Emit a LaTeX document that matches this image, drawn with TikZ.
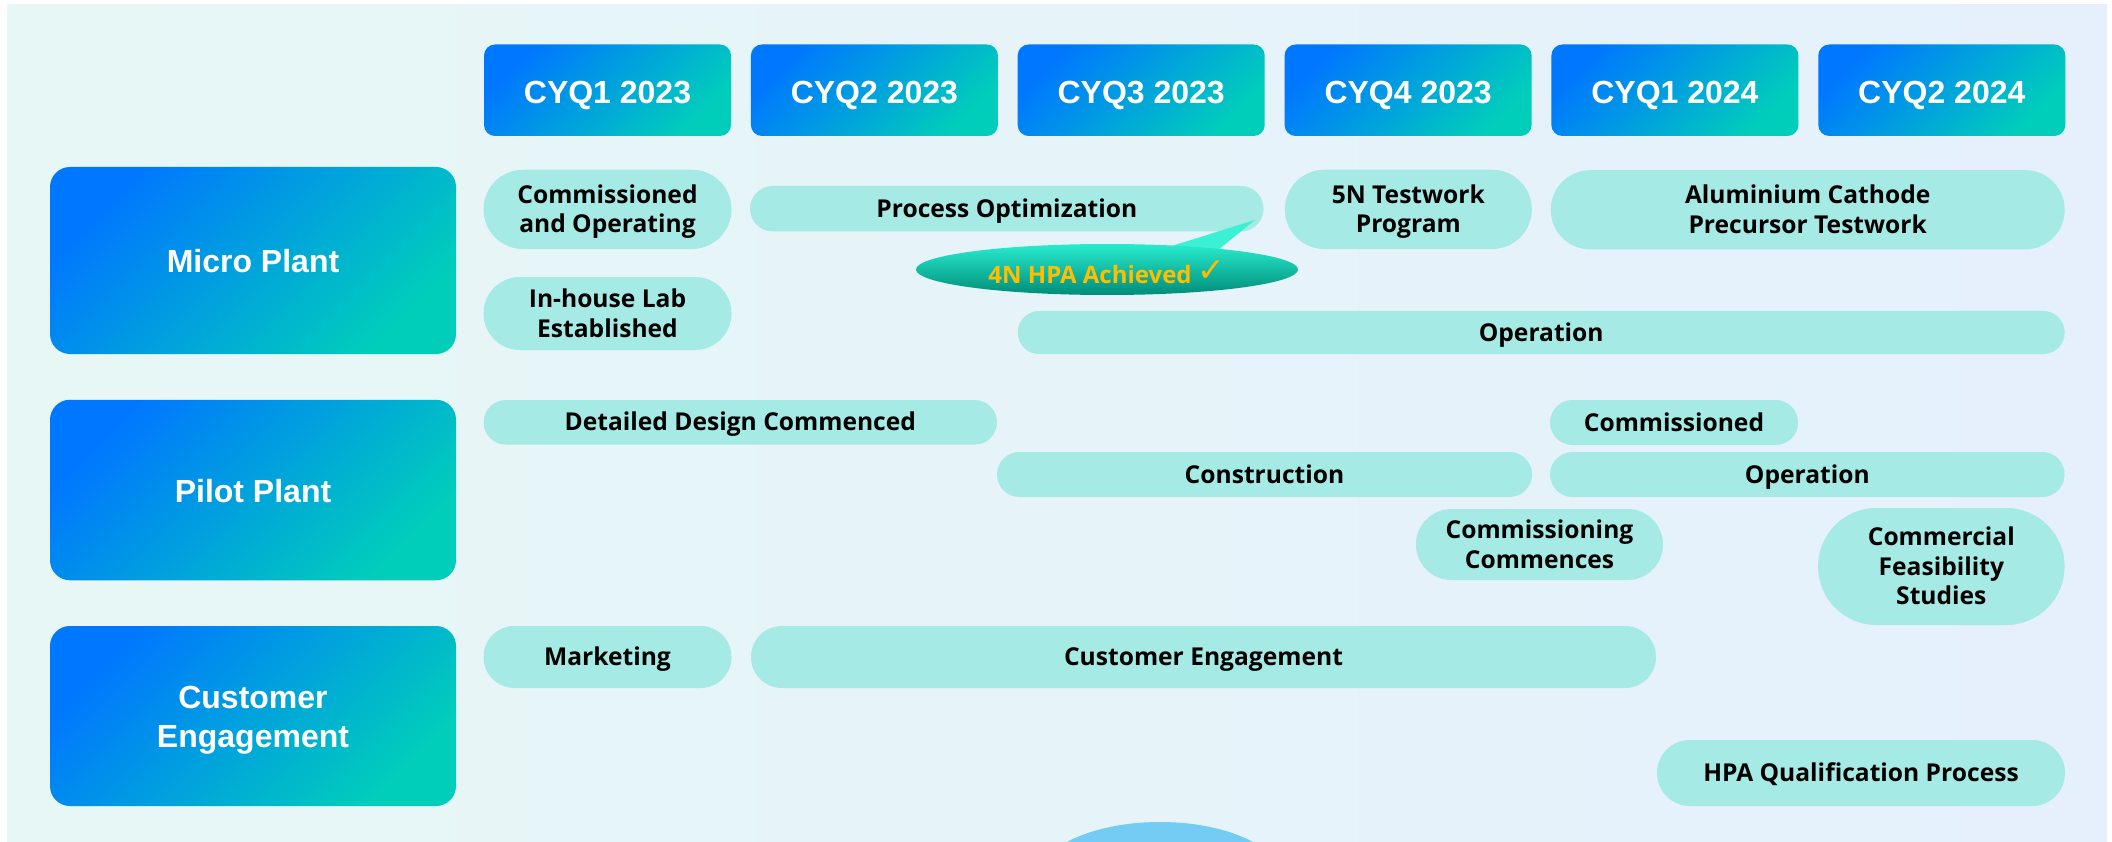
\documentclass[tikz,border=0pt]{standalone}
\usepackage{fontspec}
\setmainfont{Open Sans}
\newfontfamily\hdrfont{Liberation Sans}
\newfontfamily\chkfont{DejaVu Sans}
\usetikzlibrary{shapes.geometric}
\definecolor{pillc}{RGB}{165,234,228}
\definecolor{hblue}{RGB}{0,119,255}
\definecolor{hteal}{RGB}{0,206,186}
\definecolor{bgl}{RGB}{231,247,246}
\definecolor{bgr}{RGB}{229,240,252}
\definecolor{gold}{RGB}{255,190,0}
\definecolor{bumpc}{RGB}{116,203,243}
\definecolor{caltop}{RGB}{40,236,206}
\definecolor{calbot}{RGB}{0,140,120}
\definecolor{taillc}{RGB}{60,240,212}
\newcommand\ptxt[1]{\raisebox{-2.7pt}[\height][\depth]{\begin{tabular}{@{}c@{}}#1\end{tabular}}}
\newcommand\htxt[2]{\raisebox{-#1pt}[\height][\depth]{\begin{tabular}{@{}c@{}}#2\end{tabular}}}
\tikzset{
  hdr/.style={rounded corners=11pt, top color=hblue, bottom color=hteal, shading angle=45,
    minimum width=247pt, minimum height=91.5pt, inner sep=0pt, text=white,
    font=\hdrfont\bfseries\fontsize{32}{39}\selectfont},
  rowhdr/.style={hdr, rounded corners=20pt, minimum width=406pt},
  pill/.style={fill=pillc, inner sep=0pt, text=black,
    font=\bfseries\fontsize{24.6}{29.8}\selectfont},
}
\begin{document}
\begin{tikzpicture}[x=1pt,y=-1pt]
\useasboundingbox (0,0) rectangle (2112,842);
\fill[white] (0,0) rectangle (2112,842);
\fill[left color=bgl, right color=bgr] (7,5) rectangle (2107,842);
\fill[bumpc] (1160,882) ellipse [x radius=125, y radius=60];

% quarter headers
\node[hdr] (q1) at (607.5,90.25) {\htxt{5}{CYQ1 2023}};
\node[hdr] (q2) at (874.4,90.25) {\htxt{5}{CYQ2 2023}};
\node[hdr] (q3) at (1141.2,90.25) {\htxt{5}{CYQ3 2023}};
\node[hdr] (q4) at (1408.1,90.25) {\htxt{5}{CYQ4 2023}};
\node[hdr] (q5) at (1674.9,90.25) {\htxt{5}{CYQ1 2024}};
\node[hdr] (q6) at (1941.8,90.25) {\htxt{5}{CYQ2 2024}};

% row headers
\node[rowhdr, minimum height=187pt] (micro) at (253,260.5) {\htxt{4.2}{Micro Plant}};
\node[rowhdr, minimum height=180.5pt] (pilot) at (253,490) {\htxt{4.2}{Pilot Plant}};
\node[rowhdr, minimum height=180pt] (cust) at (253,716) {\htxt{4}{Customer\\[0pt]Engagement}};

% micro plant
\node[pill, minimum width=248pt, minimum height=79.3pt, rounded corners=39.6pt] (commop) at (607.5,209.4) {\ptxt{Commissioned\\and Operating}};
\node[pill, minimum width=513.5pt, minimum height=45.5pt, rounded corners=22.7pt] (procopt) at (1006.8,208.7) {\ptxt{Process Optimization}};
\node[pill, minimum width=247pt, minimum height=79.3pt, rounded corners=39.6pt] (fiven) at (1408.3,209.4) {\ptxt{5N Testwork\\Program}};
\node[pill, minimum width=514pt, minimum height=79.3pt, rounded corners=39.6pt] (alum) at (1807.7,209.8) {\ptxt{Aluminium Cathode\\Precursor Testwork}};
\node[pill, minimum width=248pt, minimum height=73pt, rounded corners=36.4pt] (inhouse) at (607.5,313.5) {\ptxt{In-house Lab\\Established}};
\node[pill, minimum width=1047pt, minimum height=43pt, rounded corners=21.4pt] (mop) at (1541.2,332.5) {\ptxt{Operation}};

% 4N callout
\fill[taillc] (1146,254) -- (1255,220) -- (1213,254) -- cycle;
\node[ellipse, minimum width=382pt, minimum height=51pt, inner sep=0pt,
  top color=caltop, bottom color=calbot, text=gold,
  font=\bfseries\fontsize{24}{29}\selectfont] (hpa4n) at (1107,269.5)
  {\raisebox{-3pt}[\height][\depth]{4N HPA Achieved {\chkfont\bfseries\fontsize{33}{29}\selectfont\raisebox{2pt}{✓}}}};

% pilot plant
\node[pill, minimum width=513.4pt, minimum height=44.5pt, rounded corners=22.2pt] (detail) at (740.3,422.3) {\ptxt{Detailed Design Commenced}};
\node[pill, minimum width=248pt, minimum height=45pt, rounded corners=22.4pt] (commd) at (1674,422.5) {\ptxt{Commissioned}};
\node[pill, minimum width=535pt, minimum height=45pt, rounded corners=22.4pt] (constr) at (1264.5,474.5) {\ptxt{Construction}};
\node[pill, minimum width=514.5pt, minimum height=45pt, rounded corners=22.4pt] (pop) at (1807.3,474.5) {\ptxt{Operation}};
\node[pill, minimum width=247pt, minimum height=71pt, rounded corners=35.4pt] (commcomm) at (1539.5,544.5) {\ptxt{Commissioning\\Commences}};
\node[pill, minimum width=246.5pt, minimum height=117pt, rounded corners=58.4pt] (cfs) at (1941.3,566.5) {\ptxt{Commercial\\Feasibility\\Studies}};

% customer engagement
\node[pill, minimum width=248pt, minimum height=62pt, rounded corners=30.9pt] (mkt) at (607.5,657) {\ptxt{Marketing}};
\node[pill, minimum width=905pt, minimum height=62pt, rounded corners=30.9pt] (ceng) at (1203.5,657) {\ptxt{Customer Engagement}};
\node[pill, minimum width=408pt, minimum height=66pt, rounded corners=32.9pt] (hpaq) at (1861,773) {\ptxt{HPA Qualification Process}};
\end{tikzpicture}
\end{document}
